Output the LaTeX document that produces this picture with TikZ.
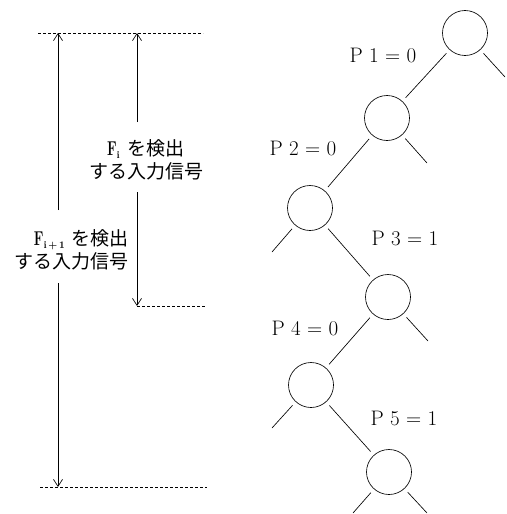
\documentclass[tikz,border=0pt]{standalone}
\usepackage{fontspec}
\newfontfamily\jpfont{Noto Sans CJK JP}
\usetikzlibrary{arrows.meta}
\newcommand\myF{{\rmfamily\bfseries\fontsize{20}{20}\selectfont\scalebox{0.68}[1]{F}}}
\newcommand\mysub[1]{\raisebox{-2.5pt}{\rmfamily\bfseries\fontsize{10}{10}\selectfont #1}}
\begin{document}
\begin{tikzpicture}[x=1pt,y=-1pt,
  nd/.style={circle,draw,minimum size=45pt,inner sep=0pt,outer sep=5pt,line width=0.65pt},
  ln/.style={line width=0.65pt},
  lab/.style={font=\fontsize{21}{21}\selectfont, inner sep=0pt},
  dl/.style={line width=0.6pt, dash pattern=on 2.5pt off 2.5pt},
  arr/.style={line width=0.65pt, -{Straight Barb[length=7pt,width=9pt]}},
  jtxt/.style={font=\jpfont\fontsize{19}{23}\selectfont, inner sep=0pt}
]
\useasboundingbox (0,0) rectangle (506,514);

% tree nodes
\node[nd] (c1) at (465,33) {};
\node[nd] (c2) at (387,118) {};
\node[nd] (c3) at (310,208) {};
\node[nd] (c4) at (388,297) {};
\node[nd] (c5) at (311,385) {};
\node[nd] (c6) at (389,472) {};

% stub ends
\coordinate (s1r) at (505,77);
\coordinate (s2r) at (427,163);
\coordinate (s3l) at (272,252);
\coordinate (s4r) at (428,341);
\coordinate (s5l) at (272,428);
\coordinate (s6l) at (353,513);
\coordinate (s6r) at (427,513);

\draw[ln] (c1) -- (c2);
\draw[ln] (c1) -- (s1r);
\draw[ln] (c2) -- (c3);
\draw[ln] (c2) -- (s2r);
\draw[ln] (c3) -- (s3l);
\draw[ln] (c3) -- (c4);
\draw[ln] (c4) -- (c5);
\draw[ln] (c4) -- (s4r);
\draw[ln] (c5) -- (s5l);
\draw[ln] (c5) -- (c6);
\draw[ln] (c6) -- (s6l);
\draw[ln] (c6) -- (s6r);

% labels
\node[lab] (p1) at (383,55) {P 1 = 0};
\node[lab] (p2) at (303,148) {P 2 = 0};
\node[lab] (p3) at (405,238) {P 3 = 1};
\node[lab] (p4) at (305,328) {P 4 = 0};
\node[lab] (p5) at (404,418) {P 5 = 1};

% dashed lines
\coordinate (d1a) at (38,33);   \coordinate (d1b) at (203,33);
\coordinate (d2a) at (137,306); \coordinate (d2b) at (205,306);
\coordinate (d3a) at (40,487);  \coordinate (d3b) at (207,487);
\draw[dl] (d1a) -- (d1b);
\draw[dl] (d2a) -- (d2b);
\draw[dl] (d3a) -- (d3b);

% text blocks
\node[jtxt, align=right, anchor=east] (tl) at (129,250) {\myF\mysub{i\,+\,1}\hspace{7pt}を検出\\する入力信号};
\node[jtxt, align=center] (tr) at (146,160) {\myF\mysub{i}\hspace{8pt}を検出\\する入力信号};

% arrows
\coordinate (la) at (58,33);  \coordinate (lb) at (58,210);
\coordinate (lc) at (58,283); \coordinate (ld) at (58,487);
\coordinate (ra) at (137,33); \coordinate (rb) at (137,122);
\coordinate (rc) at (137,192); \coordinate (rd) at (137,306);
\draw[arr] (lb) -- (la);
\draw[arr] (lc) -- (ld);
\draw[arr] (rb) -- (ra);
\draw[arr] (rc) -- (rd);
\end{tikzpicture}
\end{document}
